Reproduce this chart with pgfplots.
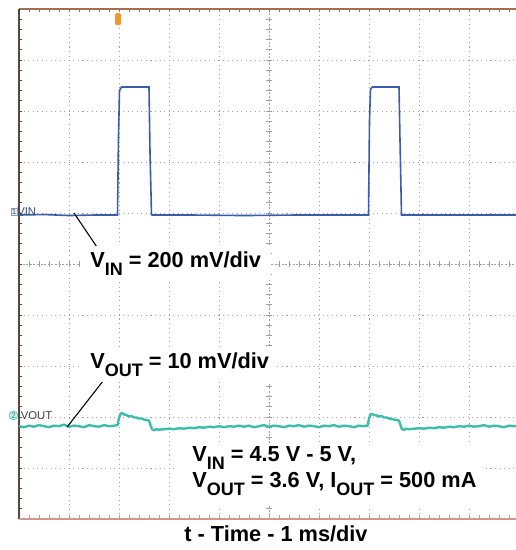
\documentclass[border=0pt]{standalone}
\usepackage{fontspec}
\setmainfont{Liberation Sans}
\usepackage{pgfplots}
\pgfplotsset{compat=1.18}

\definecolor{vin}{RGB}{58,92,170}
\definecolor{vout}{RGB}{62,188,172}
\definecolor{gridc}{RGB}{160,160,160}
\definecolor{topb}{RGB}{165,110,80}
\definecolor{leftb}{RGB}{90,70,60}
\definecolor{botb}{RGB}{210,150,140}
\definecolor{trig}{RGB}{240,150,50}
\definecolor{vinlab}{RGB}{60,75,120}
\definecolor{voutlab}{RGB}{50,140,140}

\newcommand{\sub}[1]{\raisebox{-6pt}{\fontsize{13.5}{13.5}\selectfont #1}}

\begin{document}
\begin{tikzpicture}
\begin{axis}[
  scale only axis, width=372.75pt, height=382.5pt,
  xmin=0, xmax=9.94, ymin=0, ymax=10,
  axis line style={draw=none},
  xtick={1,2,3,4,6,7,8,9}, ytick={1,2,3,4,6,7,8,9},
  xticklabels={}, yticklabels={},
  tick style={draw=none},
  grid=major,
  major grid style={gridc, line width=0.6pt, dash pattern=on 0.8pt off 2.6pt},
  clip=false,
  font=\fontsize{16.3}{19}\selectfont\bfseries,
]
\coordinate (O) at (rel axis cs:0,0);
\coordinate (UR) at (rel axis cs:1,1);
% centre crosshair
\draw[gridc, line width=0.6pt, dash pattern=on 1.5pt off 1.2pt] (axis cs:5,0) -- (axis cs:5,10);
\draw[gridc, line width=0.6pt, dash pattern=on 1.5pt off 1.2pt] (axis cs:0,5) -- (axis cs:9.94,5);
\pgfplotsinvokeforeach{0.2,0.4,...,9.8}{
  \draw[gridc, line width=0.5pt] (axis cs:5,#1) ++(-2pt,0) -- ++(4pt,0);
  \draw[gridc, line width=0.5pt] (axis cs:#1,5) ++(0,-2pt) -- ++(0,4pt);
  \draw[topb, line width=0.5pt] (axis cs:#1,10) -- ++(0,-2.5pt);
  \draw[leftb, line width=0.5pt] (axis cs:0,#1) -- ++(2.5pt,0);
  \draw[botb, line width=0.5pt] (axis cs:#1,0) -- ++(0,3pt);
}
% borders
\draw[topb, line width=0.8pt] (rel axis cs:0,1) -- (rel axis cs:1,1);
\draw[leftb, line width=0.8pt] (rel axis cs:0,0) -- (rel axis cs:0,1);
\draw[botb, line width=2pt] (rel axis cs:0,0) -- (rel axis cs:1,0);

% VIN trace
\addplot[vin, line width=1.2pt] coordinates {
(0,5.96) (0.5,5.97) (1.0,5.95) (1.5,5.96) (1.97,5.96) (1.99,7.5) (2.01,8.40) (2.05,8.47)
(2.60,8.47) (2.62,7.2) (2.65,5.97) (2.66,5.96) (3.5,5.96) (4.5,5.95) (5.5,5.96)
(6.5,5.96) (6.99,5.96) (7.01,7.8) (7.03,8.43) (7.07,8.47) (7.60,8.47) (7.62,7.43)
(7.65,5.96) (8.5,5.96) (9.94,5.96)
};

% VOUT trace
\addplot[vout, line width=1.8pt, line join=round] coordinates {
(0.0,1.82) (0.1,1.80) (0.2,1.83) (0.3,1.81) (0.4,1.84) (0.5,1.82) (0.6,1.80) (0.7,1.83)
(0.8,1.82) (0.9,1.85) (1.0,1.81) (1.1,1.83) (1.2,1.82) (1.3,1.80) (1.4,1.84) (1.5,1.82)
(1.6,1.81) (1.7,1.84) (1.8,1.82) (1.9,1.83) (1.97,1.84) (2.0,1.98) (2.03,2.06) (2.06,2.08)
(2.1,2.05) (2.15,2.04) (2.2,2.01) (2.25,2.02) (2.3,1.99) (2.35,1.99) (2.4,1.97) (2.45,1.97)
(2.5,1.95) (2.55,1.94) (2.6,1.93) (2.63,1.84) (2.66,1.76) (2.7,1.74) (2.75,1.76) (2.8,1.75)
(2.9,1.76) (3.0,1.77) (3.1,1.76) (3.2,1.78) (3.3,1.77) (3.4,1.79) (3.5,1.78) (3.6,1.80)
(3.7,1.79) (3.8,1.81) (3.9,1.80) (4.0,1.82) (4.1,1.80) (4.2,1.82) (4.3,1.81) (4.4,1.83)
(4.5,1.81) (4.6,1.83) (4.7,1.80) (4.8,1.82) (4.9,1.84) (5.0,1.81) (5.1,1.83) (5.2,1.82)
(5.3,1.80) (5.4,1.83) (5.5,1.82) (5.6,1.84) (5.7,1.81) (5.8,1.83) (5.9,1.82) (6.0,1.80)
(6.1,1.83) (6.2,1.82) (6.3,1.84) (6.4,1.81) (6.5,1.83) (6.6,1.82) (6.7,1.80) (6.8,1.83)
(6.9,1.82) (6.97,1.83) (7.0,1.97) (7.03,2.05) (7.06,2.06) (7.1,2.04) (7.15,2.03) (7.2,2.01)
(7.25,2.02) (7.3,1.99) (7.35,1.99) (7.4,1.97) (7.45,1.96) (7.5,1.95) (7.55,1.94) (7.6,1.93)
(7.63,1.84) (7.66,1.76) (7.7,1.75) (7.75,1.77) (7.8,1.76) (7.9,1.77) (8.0,1.78) (8.1,1.77)
(8.2,1.79) (8.3,1.78) (8.4,1.80) (8.5,1.79) (8.6,1.81) (8.7,1.80) (8.8,1.82) (8.9,1.81)
(9.0,1.83) (9.1,1.81) (9.2,1.82) (9.3,1.84) (9.4,1.81) (9.5,1.83) (9.6,1.82) (9.7,1.80)
(9.8,1.83) (9.9,1.82) (9.94,1.82)
};

% channel markers
\node[draw=vin!60, fill=vin!10, inner sep=0.7pt, text=vinlab,
      font=\fontsize{6}{6}\selectfont] at (axis cs:-0.1,6.03) {1};
\node[anchor=west, inner sep=0, text=vinlab, font=\fontsize{8.5}{8.5}\selectfont]
      at (axis cs:-0.04,6.03) {VIN};
\node[circle, draw=vout, fill=vout!25, inner sep=0.4pt, text=voutlab,
      font=\fontsize{6}{6}\selectfont] at (axis cs:-0.11,2.03) {2};
\node[anchor=west, inner sep=0, text=black!75, font=\fontsize{8.5}{8.5}\selectfont]
      at (axis cs:0.03,2.03) {VOUT};
% trigger marker
\node[fill=trig, rounded corners=1pt, minimum width=4.5pt, minimum height=9pt, inner sep=0]
      at (axis cs:1.98,9.8) {};

% annotations
\draw[black, line width=0.8pt] (axis cs:1.10,6.0) -- (axis cs:1.56,5.33);
\node[anchor=base west, fill=white, inner xsep=7.5pt, inner ysep=4pt]
      at (axis cs:1.22,4.94) {V\sub{IN} = 200 mV/div};
\draw[black, line width=0.8pt] (axis cs:0.96,1.80) -- (axis cs:1.74,2.78);
\node[anchor=base west, fill=white, inner xsep=6pt, inner ysep=4pt]
      at (axis cs:1.26,2.96) {V\sub{OUT} = 10 mV/div};
\fill[white] (axis cs:3.18,0.27) rectangle (axis cs:9.32,1.45);
\node[anchor=base west, inner sep=0] at (axis cs:3.46,1.12) {V\sub{IN} = 4.5 V - 5 V,};
\node[anchor=base west, inner sep=0] at (axis cs:3.46,0.61) {V\sub{OUT} = 3.6 V, I\sub{OUT} = 500 mA};
\node[anchor=base, inner sep=0] at (axis cs:5.14,-0.45) {t - Time - 1 ms/div};
\end{axis}
\pgfresetboundingbox
\path[use as bounding box] ([xshift=-14.25pt,yshift=-23.25pt]O) rectangle ([yshift=6.75pt]UR);
\end{tikzpicture}
\end{document}
